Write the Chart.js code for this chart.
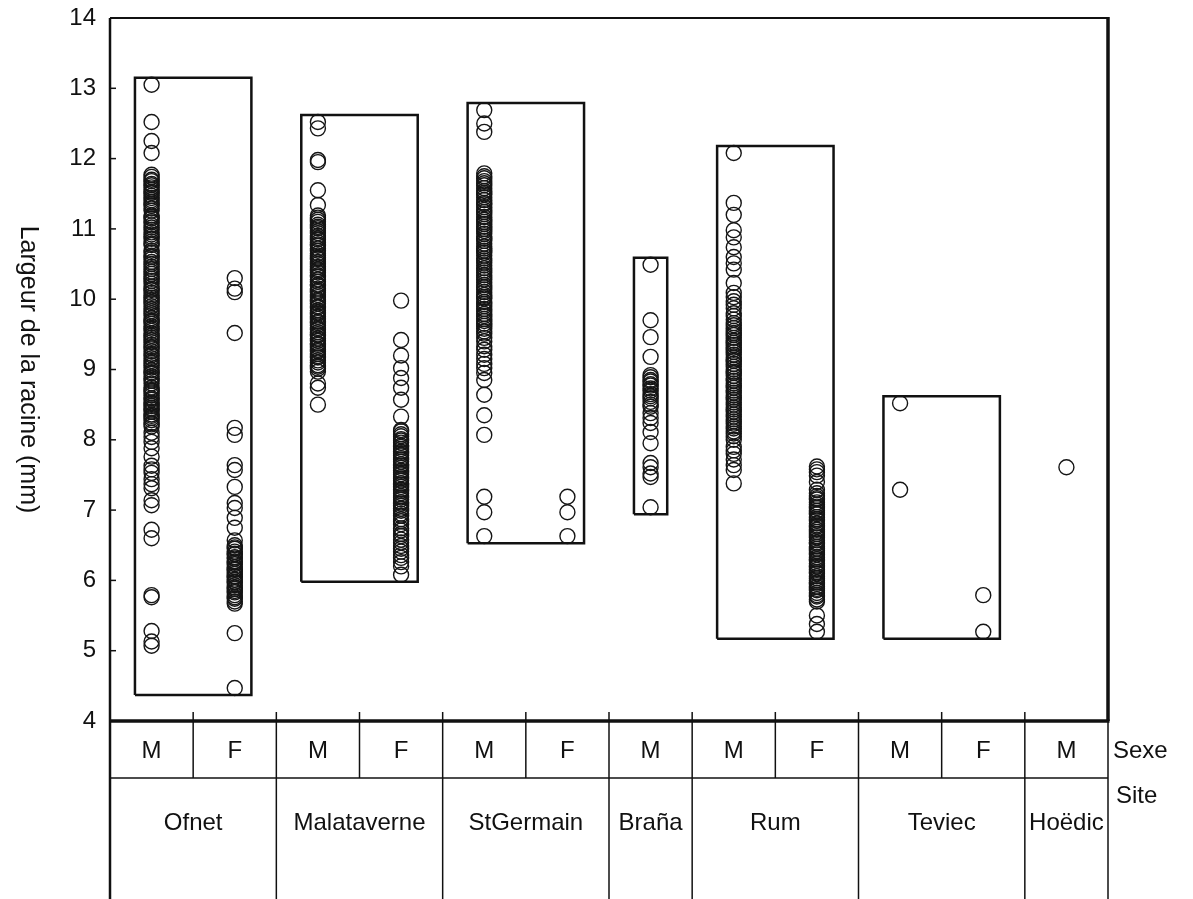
<!DOCTYPE html>
<html>
<head>
<meta charset="utf-8">
<script src="https://cdn.jsdelivr.net/npm/chart.js@4/dist/chart.umd.min.js"></script>
<style>
  html, body { margin: 0; padding: 0; background: #fff; }
  #wrap { width: 1193px; height: 899px; }
</style>
</head>
<body>
<div id="wrap"><canvas id="myChart"></canvas></div>
<script>
// sites and the sex of each column under them
const sites = ['Ofnet', 'Malataverne', 'StGermain', 'Braña', 'Rum', 'Teviec', 'Hoëdic'];
const sexes = ['M', 'F', 'M', 'F', 'M', 'F', 'M', 'M', 'F', 'M', 'F', 'M'];
const columnSite = [0, 0, 1, 1, 2, 2, 3, 4, 4, 5, 5, 6];
const yTicks = [4, 5, 6, 7, 8, 9, 10, 11, 12, 13, 14];

// root width (mm), one list per column
const ofnetM = [13.05, 12.52, 12.25, 12.08, 11.77, 11.74, 11.7, 11.68, 11.64, 11.62, 11.59, 11.56, 11.53, 11.51,
  11.47, 11.44, 11.41, 11.38, 11.35, 11.33, 11.29, 11.26, 11.19, 11.17, 11.15, 11.11, 11.09, 11.05, 11.02, 10.99,
  10.95, 10.92, 10.89, 10.86, 10.82, 10.79, 10.77, 10.69, 10.66, 10.62, 10.6, 10.57, 10.53, 10.5, 10.46, 10.43,
  10.39, 10.36, 10.32, 10.29, 10.26, 10.22, 10.18, 10.15, 10.13, 10.09, 10.05, 10.02, 9.99, 9.96, 9.94, 9.9,
  9.86, 9.83, 9.8, 9.77, 9.73, 9.7, 9.68, 9.65, 9.61, 9.58, 9.55, 9.51, 9.48, 9.45, 9.42, 9.39, 9.35, 9.32,
  9.3, 9.26, 9.22, 9.2, 9.16, 9.12, 9.09, 9.06, 9.03, 8.99, 8.96, 8.94, 8.9, 8.87, 8.84, 8.8, 8.74, 8.71,
  8.69, 8.66, 8.63, 8.59, 8.57, 8.53, 8.51, 8.48, 8.45, 8.43, 8.4, 8.36, 8.34, 8.31, 8.28, 8.24, 8.22, 8.19,
  8.1, 8.04, 7.97, 7.88, 7.76, 7.63, 7.58, 7.53, 7.44, 7.37, 7.31, 7.14, 7.07, 6.72, 6.6, 5.79, 5.76, 5.28,
  5.13, 5.07];
const ofnetF = [10.3, 10.15, 10.1, 9.52, 8.17, 8.07, 7.64, 7.57, 7.33, 7.1, 7.03, 6.89, 6.75, 6.57, 6.5, 6.47,
  6.45, 6.41, 6.38, 6.37, 6.33, 6.31, 6.27, 6.25, 6.23, 6.19, 6.16, 6.15, 6.12, 6.09, 6.06, 6.05, 6.01, 5.98,
  5.97, 5.93, 5.9, 5.88, 5.85, 5.83, 5.79, 5.76, 5.74, 5.7, 5.67, 5.25, 4.47];
const malataverneM = [12.52, 12.43, 11.98, 11.95, 11.55, 11.34, 11.19, 11.16, 11.13, 11.1, 11.06, 11.03, 11.01,
  10.97, 10.94, 10.9, 10.87, 10.85, 10.81, 10.78, 10.76, 10.72, 10.69, 10.65, 10.62, 10.59, 10.57, 10.53, 10.5,
  10.46, 10.43, 10.41, 10.38, 10.34, 10.32, 10.28, 10.25, 10.21, 10.19, 10.15, 10.12, 10.1, 10.06, 10.03, 9.99,
  9.97, 9.94, 9.9, 9.88, 9.84, 9.81, 9.79, 9.75, 9.72, 9.68, 9.66, 9.63, 9.59, 9.57, 9.53, 9.5, 9.48, 9.44,
  9.41, 9.37, 9.35, 9.32, 9.28, 9.26, 9.22, 9.19, 9.17, 9.13, 9.1, 9.06, 9.04, 9.01, 8.97, 8.8, 8.74, 8.5];
const malataverneF = [9.98, 9.42, 9.2, 9.02, 8.88, 8.74, 8.57, 8.33, 8.14, 8.12, 8.08, 8.05, 8.01, 7.99, 7.96,
  7.92, 7.9, 7.87, 7.83, 7.81, 7.78, 7.74, 7.72, 7.69, 7.65, 7.63, 7.6, 7.56, 7.54, 7.51, 7.47, 7.45, 7.42,
  7.38, 7.36, 7.33, 7.29, 7.27, 7.24, 7.2, 7.18, 7.15, 7.11, 7.09, 7.06, 7.02, 6.99, 6.95, 6.92, 6.87, 6.84,
  6.8, 6.74, 6.71, 6.66, 6.63, 6.58, 6.54, 6.49, 6.45, 6.41, 6.36, 6.32, 6.26, 6.2, 6.08];
const stgermainM = [12.69, 12.5, 12.38, 11.79, 11.75, 11.72, 11.68, 11.65, 11.62, 11.58, 11.54, 11.51, 11.49,
  11.45, 11.41, 11.37, 11.35, 11.31, 11.27, 11.24, 11.21, 11.17, 11.13, 11.1, 11.07, 11.03, 11.0, 10.97, 10.93,
  10.89, 10.86, 10.83, 10.79, 10.75, 10.72, 10.69, 10.66, 10.62, 10.58, 10.55, 10.52, 10.48, 10.44, 10.41, 10.38,
  10.34, 10.31, 10.28, 10.24, 10.2, 10.17, 10.14, 10.1, 10.06, 10.03, 10.01, 9.96, 9.93, 9.9, 9.86, 9.83, 9.79,
  9.76, 9.72, 9.69, 9.65, 9.62, 9.58, 9.54, 9.51, 9.45, 9.4, 9.33, 9.28, 9.21, 9.15, 9.08, 9.02, 8.95, 8.85,
  8.64, 8.35, 8.07, 7.19, 6.97, 6.63];
const stgermainF = [7.19, 6.97, 6.63];
const branaM = [10.49, 9.7, 9.46, 9.18, 8.92, 8.89, 8.85, 8.83, 8.79, 8.77, 8.73, 8.7, 8.65, 8.62, 8.59, 8.54,
  8.5, 8.47, 8.38, 8.31, 8.24, 8.11, 7.95, 7.67, 7.61, 7.52, 7.47, 7.04];
const rumM = [12.08, 11.37, 11.2, 10.98, 10.88, 10.74, 10.6, 10.51, 10.42, 10.23, 10.09, 10.03, 9.97, 9.92, 9.87,
  9.8, 9.76, 9.71, 9.66, 9.63, 9.59, 9.55, 9.52, 9.49, 9.45, 9.41, 9.38, 9.35, 9.31, 9.28, 9.25, 9.21, 9.17,
  9.14, 9.12, 9.08, 9.04, 9.0, 8.97, 8.95, 8.91, 8.87, 8.84, 8.8, 8.77, 8.74, 8.7, 8.67, 8.63, 8.6, 8.57, 8.53,
  8.5, 8.46, 8.43, 8.4, 8.36, 8.33, 8.29, 8.26, 8.23, 8.19, 8.16, 8.12, 8.09, 8.05, 8.0, 7.9, 7.85, 7.8, 7.72,
  7.64, 7.57, 7.38];
const rumF = [7.62, 7.58, 7.54, 7.49, 7.4, 7.29, 7.24, 7.2, 7.17, 7.15, 7.11, 7.08, 7.05, 7.03, 6.99, 6.96,
  6.94, 6.9, 6.87, 6.85, 6.81, 6.78, 6.76, 6.72, 6.69, 6.66, 6.63, 6.61, 6.57, 6.54, 6.52, 6.48, 6.45, 6.42,
  6.39, 6.37, 6.33, 6.3, 6.28, 6.24, 6.21, 6.19, 6.15, 6.12, 6.1, 6.06, 6.03, 6.0, 5.97, 5.95, 5.91, 5.88,
  5.86, 5.82, 5.79, 5.77, 5.73, 5.7, 5.5, 5.38, 5.27];
const teviecM = [8.52, 7.29];
const teviecF = [5.79, 5.27];
const hoedicM = [7.61];

const columns = [ofnetM, ofnetF, malataverneM, malataverneF, stgermainM, stgermainF,
  branaM, rumM, rumF, teviecM, teviecF, hoedicM];

// circles
const pointSets = columns.map((vals, i) => ({
  type: 'scatter',
  data: vals.map(v => ({ x: i, y: v })),
  pointStyle: 'circle',
  pointRadius: 7.5,
  pointBorderWidth: 1.4,
  pointBorderColor: '#151515',
  pointBackgroundColor: 'rgba(0,0,0,0)',
  showLine: false
}));

// one box per site round its points (not drawn for a single point)
const boxSets = [];
sites.forEach((s, si) => {
  const cols = columnSite.map((c, i) => c === si ? i : -1).filter(i => i >= 0);
  const vals = cols.flatMap(i => columns[i]);
  if (vals.length < 2) return;
  const lo = Math.min(...vals) - 0.1, hi = Math.max(...vals) + 0.1;
  const x0 = cols[0] - 0.2, x1 = cols[cols.length - 1] + 0.2;
  boxSets.push({
    type: 'line',
    data: [{ x: x0, y: lo }, { x: x0, y: hi }, { x: x1, y: hi }, { x: x1, y: lo }, { x: x0, y: lo }],
    borderColor: '#111',
    borderWidth: 2.5,
    pointRadius: 0,
    fill: false,
    tension: 0
  });
});

const frameAndTable = {
  id: 'frameAndTable',
  afterDraw(chart) {
    const ctx = chart.ctx, a = chart.chartArea;
    const xs = chart.scales.x, ys = chart.scales.y;
    const H = chart.height;
    const edge = k => xs.getPixelForValue(k - 0.5);
    const row1 = a.bottom + 57;
    ctx.save();
    ctx.strokeStyle = '#111';
    ctx.fillStyle = '#111';

    // inward y ticks
    ctx.lineWidth = 1.5;
    yTicks.forEach(t => {
      const y = ys.getPixelForValue(t);
      ctx.beginPath(); ctx.moveTo(a.left, y); ctx.lineTo(a.left + 6, y); ctx.stroke();
    });

    // table lines
    ctx.lineWidth = 1.5;
    for (let k = 1; k < sexes.length; k++) {
      const x = edge(k);
      ctx.beginPath(); ctx.moveTo(x, a.bottom - 9); ctx.lineTo(x, row1); ctx.stroke();
      if (columnSite[k] !== columnSite[k - 1]) {
        ctx.beginPath(); ctx.moveTo(x, row1); ctx.lineTo(x, H); ctx.stroke();
      }
    }
    ctx.beginPath(); ctx.moveTo(a.left, row1); ctx.lineTo(a.right, row1); ctx.stroke();
    ctx.beginPath(); ctx.moveTo(a.right, a.bottom); ctx.lineTo(a.right, H); ctx.stroke();

    // plot frame
    ctx.lineWidth = 2.5;
    ctx.beginPath(); ctx.moveTo(a.left, a.top); ctx.lineTo(a.left, H); ctx.stroke();
    ctx.lineWidth = 2;
    ctx.beginPath(); ctx.moveTo(a.left, a.top); ctx.lineTo(a.right, a.top); ctx.stroke();
    ctx.lineWidth = 3.5;
    ctx.beginPath(); ctx.moveTo(a.right, a.top - 1); ctx.lineTo(a.right, a.bottom); ctx.stroke();
    ctx.beginPath(); ctx.moveTo(a.left, a.bottom); ctx.lineTo(a.right + 1.5, a.bottom); ctx.stroke();

    // labels
    ctx.font = '24px "Liberation Sans", Arial, sans-serif';
    ctx.textAlign = 'center';
    ctx.textBaseline = 'middle';
    sexes.forEach((s, i) => ctx.fillText(s, xs.getPixelForValue(i), a.bottom + 30));
    sites.forEach((s, si) => {
      const cols = columnSite.map((c, i) => c === si ? i : -1).filter(i => i >= 0);
      const mid = (edge(cols[0]) + edge(cols[cols.length - 1] + 1)) / 2;
      ctx.fillText(s, mid, a.bottom + 102);
    });
    ctx.textAlign = 'left';
    ctx.fillText('Sexe', a.right + 5, a.bottom + 30);
    ctx.fillText('Site', a.right + 8, a.bottom + 75);

    // y title, read top to bottom
    ctx.font = '25px "Liberation Sans", Arial, sans-serif';
    ctx.textAlign = 'center';
    ctx.translate(28, (a.top + a.bottom) / 2);
    ctx.rotate(Math.PI / 2);
    ctx.fillText('Largeur de la racine (mm)', 0, 0);
    ctx.restore();
  }
};

Chart.defaults.font.family = '"Liberation Sans", Arial, sans-serif';

new Chart(document.getElementById('myChart'), {
  type: 'scatter',
  data: { datasets: [...boxSets, ...pointSets] },
  options: {
    responsive: true,
    maintainAspectRatio: false,
    animation: false,
    layout: { padding: { top: 18, right: 85, bottom: 178, left: 0 } },
    plugins: { legend: { display: false }, tooltip: { enabled: false } },
    scales: {
      x: { type: 'linear', min: -0.5, max: 11.5, display: false },
      y: {
        min: 4,
        max: 14,
        afterFit: s => { s.width = 110; s.paddingTop = 0; s.paddingBottom = 0; },
        afterBuildTicks: s => { s.ticks = yTicks.map(v => ({ value: v })); },
        grid: { display: false, drawTicks: false },
        border: { display: false },
        ticks: { padding: 14, color: '#111', font: { size: 24 } }
      }
    }
  },
  plugins: [frameAndTable]
});
</script>
</body>
</html>
